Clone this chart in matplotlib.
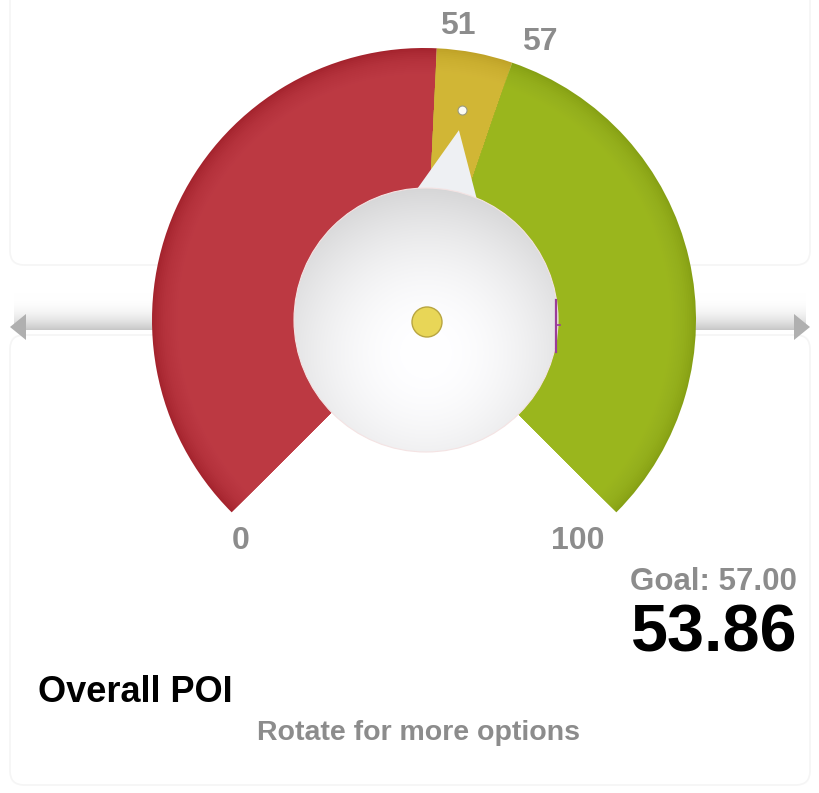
import numpy as np
import matplotlib
matplotlib.use("Agg")
import matplotlib.pyplot as plt
from matplotlib.patches import Wedge, Circle, Polygon, FancyBboxPatch

# gauge data
gauge_min = 0
gauge_max = 100
band_edges = [0, 51, 57, 100]
band_colors = ['#c4414a', '#d9be3d', '#a2be25']
band_dark = ['#a4232d', '#bfa227', '#86a014']
value = 53.86
goal = 57.00
title = 'Overall POI'
hint = 'Rotate for more options'

W, H = 820, 793
cx, cy = 424, H - 320
r_out = 272
r_disc = 132

fig = plt.figure(figsize=(W / 100, H / 100), dpi=100)
ax = fig.add_axes([0, 0, 1, 1])
ax.set_xlim(0, W)
ax.set_ylim(0, H)
ax.set_aspect('equal')
ax.axis('off')

fonts = ['Liberation Sans', 'DejaVu Sans']


def angle(v):
    return 225 - 270 * (v - gauge_min) / (gauge_max - gauge_min)


# faint card outlines
for (y0, h) in [(H - 265, 300), (8, H - 335 - 8)]:
    ax.add_patch(FancyBboxPatch((10, y0), W - 20, h,
                                boxstyle='round,pad=0,rounding_size=14',
                                fc='none', ec='#f5f5f5', lw=1.2, zorder=0))

# horizontal bar behind the gauge
grad = np.linspace(0, 1, 64).reshape(-1, 1) ** 2.5
bar = np.ones((64, 1, 3)) * (1 - 0.22 * grad)[:, :, None]
ax.imshow(bar, extent=(14, W - 14, H - 330, H - 293), origin='upper',
          aspect='auto', zorder=1)
ax.add_patch(Polygon([(10, H - 327), (26, H - 314), (26, H - 340)],
                     closed=True, fc='#b0b0b0', ec='none', zorder=1))
ax.add_patch(Polygon([(W - 10, H - 327), (W - 26, H - 314), (W - 26, H - 340)],
                     closed=True, fc='#b0b0b0', ec='none', zorder=1))

# coloured bands, darker towards the rim
for i in range(len(band_colors)):
    t1, t2 = angle(band_edges[i + 1]), angle(band_edges[i])
    ax.add_patch(Wedge((cx, cy), r_out, t1, t2, fc=band_dark[i], ec='none', zorder=2))
    for frac in np.linspace(0.995, 0.80, 30):
        ax.add_patch(Wedge((cx, cy), r_out * frac, t1, t2, fc=band_colors[i],
                           ec='none', alpha=0.12, zorder=2))

# needle
a = np.radians(angle(value))
tip_r, base_w = 193, 90
ux, uy = np.cos(a), np.sin(a)
px, py = -uy, ux
needle = [(cx + ux * tip_r, cy + uy * tip_r),
          (cx + px * base_w, cy + py * base_w),
          (cx - px * base_w, cy - py * base_w)]
ax.add_patch(Polygon(needle, closed=True, fc='#eef0f3', ec='none', zorder=3))
ax.add_patch(Circle((cx + ux * 213, cy + uy * 213), 4.5, fc='#fbfbf4',
                    ec='#9a9a80', lw=0.8, zorder=4))

# centre disc with radial gradient
n = 300
yy, xx = np.mgrid[-1:1:n * 1j, -1:1:n * 1j]
rr = np.sqrt(xx ** 2 + (yy - 0.25) ** 2)
shade = 1 - 0.16 * np.clip(rr / 1.25, 0, 1) ** 2
img = np.dstack([shade, shade, shade * 1.005]).clip(0, 1)
disc = Circle((cx + 2, cy), r_disc, transform=ax.transData)
im = ax.imshow(img, extent=(cx + 2 - r_disc, cx + 2 + r_disc, cy - r_disc, cy + r_disc),
               origin='upper', zorder=5)
im.set_clip_path(disc)
ax.add_patch(Circle((cx + 2, cy), r_disc, fc='none', ec='#f4e3e3', lw=0.8, zorder=5))
ax.add_patch(Circle((cx + 3, cy - 2), 15, fc='#e8d657', ec='#b8a540', lw=1, zorder=6))

# goal marker
ax.plot([556, 556], [H - 300, H - 352], color='#9a3d9a', lw=1.6, zorder=6)
ax.plot([556, 560], [H - 325, H - 325], color='#9a3d9a', lw=1.2, zorder=6)

# scale labels
lab_pos = [(band_edges[0], 241, 541), (band_edges[1], 458, 26),
           (band_edges[2], 540, 42), (band_edges[3], 578, 541)]
for v, x, y in lab_pos:
    ax.text(x, H - y, str(v), ha='center', va='center', fontsize=23,
            fontweight='bold', color='#8c8c8c', family=fonts, zorder=7)

ax.text(797, H - 582, 'Goal: {:.2f}'.format(goal), ha='right', va='center',
        fontsize=22.5, fontweight='bold', color='#8c8c8c', family=fonts)
ax.text(797, H - 635, '{:.2f}'.format(value), ha='right', va='center',
        fontsize=48, fontweight='bold', color='#000000', family=fonts)
ax.text(38, H - 692, title, ha='left', va='center', fontsize=26,
        fontweight='bold', color='#000000', family=fonts)
ax.text(419, H - 733, hint, ha='center', va='center', fontsize=20.5,
        fontweight='bold', color='#8c8c8c', family=fonts)

fig.savefig('out.png', dpi=100)
